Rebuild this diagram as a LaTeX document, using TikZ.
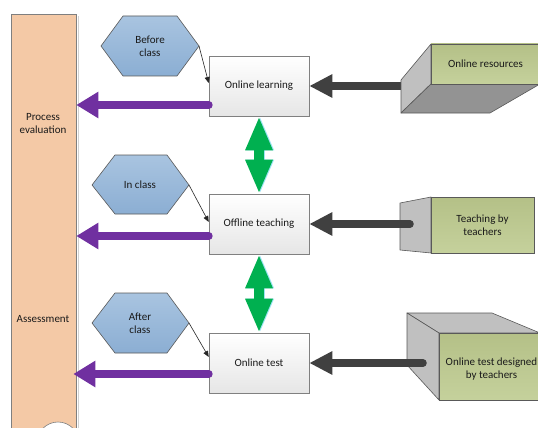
\documentclass[tikz,border=0pt]{standalone}
\usepackage{fontspec}
\setmainfont{Carlito}
\usetikzlibrary{arrows.meta,calc}
\definecolor{peach}{HTML}{F4C9A6}
\definecolor{barline}{HTML}{7F7F7F}
\definecolor{hextop}{HTML}{A9C4E0}
\definecolor{hexbot}{HTML}{8BAED3}
\definecolor{hexline}{HTML}{595959}
\definecolor{boxline}{HTML}{808080}
\definecolor{boxbot}{HTML}{E6E6E6}
\definecolor{greentop}{HTML}{B4C087}
\definecolor{greenbot}{HTML}{C5D19C}
\definecolor{sidegray}{HTML}{C0C0C0}
\definecolor{darkgray2}{HTML}{939393}
\definecolor{purparr}{HTML}{7030A0}
\definecolor{greenarr}{HTML}{00B050}
\definecolor{glow}{HTML}{9FE4F5}
\definecolor{darkarr}{HTML}{404040}
\definecolor{txt}{HTML}{1A1A1A}
\begin{document}
\begin{tikzpicture}[x=1pt,y=-1pt,
  font=\fontsize{11}{13}\selectfont,
  every node/.style={text=txt},
  box/.style={draw=boxline, line width=0.6pt, top color=white, bottom color=boxbot,
    minimum width=100pt, minimum height=60pt, inner sep=0pt, align=center},
  hexa/.style={draw=hexline, line width=0.6pt, top color=hextop, bottom color=hexbot},
  front/.style={draw=hexline, line width=0.6pt, top color=greentop, bottom color=greenbot,
    inner sep=0pt, align=center},
  sideface/.style={fill=sidegray, draw=hexline, line width=0.6pt, line join=round},
  bottomface/.style={fill=darkgray2, draw=hexline, line width=0.6pt, line join=round},
  purp/.style={draw=purparr, line width=8pt, line cap=round, -{Triangle[length=22pt,width=25pt]}},
  darkarrow/.style={draw=darkarr, line width=7.5pt, line cap=round, -{Triangle[length=23pt,width=22pt]}},
  greenarrow/.style={draw=greenarr, line width=10pt, {Triangle[length=34pt,width=25pt]}-{Triangle[length=34pt,width=25pt]}},
  glowarrow/.style={draw=glow, line width=10pt, {Triangle[length=34pt,width=25pt]}-{Triangle[length=34pt,width=25pt]}},
  thin/.style={draw=black!85, line width=0.6pt, -{Triangle[length=6pt,width=5pt]}},
  lbl/.style={align=center, inner sep=0pt}
]
\clip (0,0) rectangle (538,428);
\fill[white] (0,0) rectangle (538,428);

% left bar
\fill[gray!35] (78,16) rectangle (79,440);
\node[draw=barline, line width=0.6pt, fill=peach, minimum width=65pt, minimum height=430pt, inner sep=0pt] (bar) at (43.5,229) {};
\node[lbl] (pe) at (43,124) {Process\\evaluation};
\node[lbl] (as) at (43,319) {Assessment};
\filldraw[fill=white, draw=barline, line width=0.6pt] (58,443) circle (21);

% hexagons
\shade[hexa] (101,46) -- (123,16) -- (177,16) -- (199,46) -- (177,76) -- (123,76) -- cycle;
\coordinate (bcr) at (199,46);
\node[lbl] (bc) at (150,46) {Before\\class};
\shade[hexa] (92,185) -- (115,155) -- (167,155) -- (189,185) -- (167,214) -- (115,214) -- cycle;
\coordinate (icr) at (189,185);
\node[lbl] (ic) at (140,185) {In class};
\shade[hexa] (92,323) -- (115,293) -- (167,293) -- (189,323) -- (167,353) -- (115,353) -- cycle;
\coordinate (acr) at (189,323);
\node[lbl] (ac) at (140,323) {After\\class};

% middle boxes
\node[box] (ol) at (259,86) {Online learning};
\node[box] (od) at (259,224) {Offline teaching};
\node[box] (ot) at (259,363) {Online test};

% thin connectors
\draw[thin] (bcr) -- ([yshift=3pt]ol.west);
\draw[thin] (icr) -- ([yshift=2pt]od.west);
\draw[thin] (acr) -- ([yshift=6pt]ot.west);

% purple arrows
\coordinate (p1) at ([yshift=-19pt]ol.west);
\coordinate (p2) at ([yshift=-12pt]od.west);
\coordinate (p3) at ([yshift=-11pt]ot.west);
\draw[purp] (p1) -- (p1 -| bar.east);
\draw[purp] (p2) -- (p2 -| bar.east);
\draw[purp] (p3) -- ($(p3 -| bar.east)+(-3,0)$);

% green double arrows
\draw[glowarrow] ([xshift=1.2pt]ol.south) -- ([xshift=1.2pt]od.north);
\draw[greenarrow] (ol.south) -- (od.north);
\draw[glowarrow] ([xshift=1.2pt]od.south) -- ([xshift=1.2pt]ot.north);
\draw[greenarrow] (od.south) -- (ot.north);

% right box 1
\coordinate (a1) at (406,86);
\draw[darkarrow] (a1) -- (ol.east);
\path[sideface] (431,44) -- (431,84) -- (401,113) -- (401,80) -- cycle;
\path[bottomface] (431,84) -- (540,84) -- (490,113) -- (401,113) -- cycle;
\node[front, minimum width=109pt, minimum height=40pt] (r1) at (485.5,64) {Online resources};

% right box 2
\path[sideface] (400,203) -- (431,197) -- (431,253) -- (400,250) -- cycle;
\node[front, minimum width=103pt, minimum height=56pt] (r2) at (482.5,225) {Teaching by\\teachers};
\coordinate (a2) at (410,224);
\draw[darkarrow] (a2) -- (od.east);

% right box 3
\path[sideface] (407,313) -- (492,313) -- (540,333) -- (439,333) -- cycle;
\path[sideface] (407,313) -- (439,333) -- (439,400) -- (407,365) -- cycle;
\node[front, minimum width=101pt, minimum height=67pt] (r3) at (489.5,366.5) {};
\node[lbl] (r3t) at (491.5,369) {Online test designed\\by teachers};
\coordinate (a3) at (423,363);
\draw[darkarrow] (a3) -- (ot.east);
\end{tikzpicture}
\end{document}
